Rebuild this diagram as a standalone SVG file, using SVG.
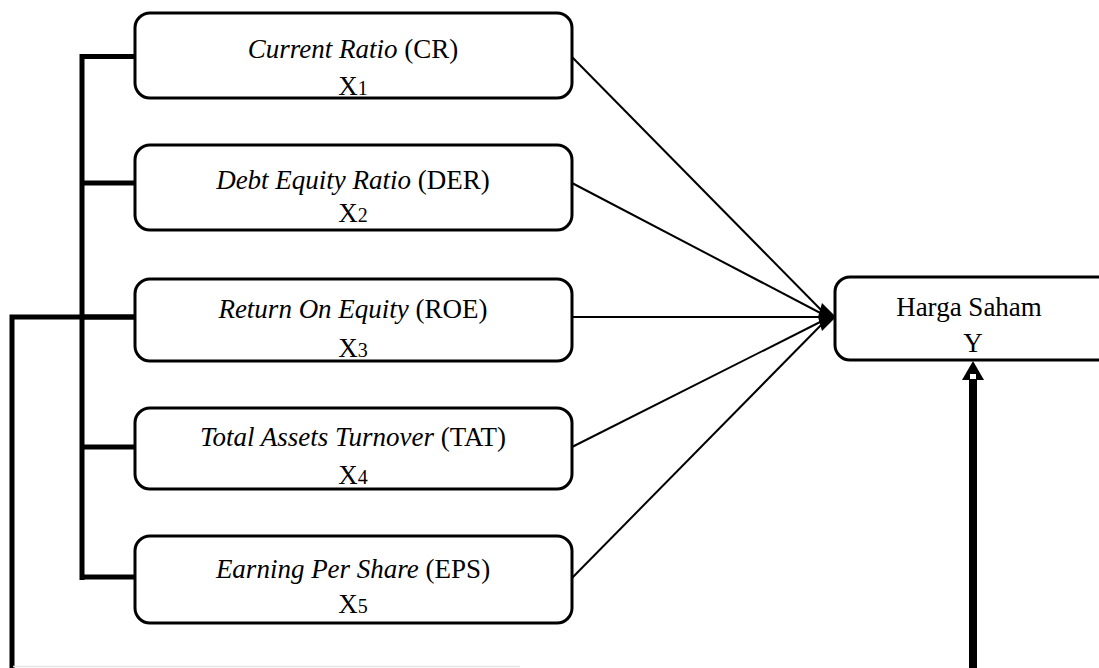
<svg xmlns="http://www.w3.org/2000/svg" width="1099" height="668" viewBox="0 0 1099 668">
<style>
.box{fill:#fff;stroke:#000;stroke-width:3}
.t{font-family:"Liberation Serif","Times New Roman",serif;font-size:27px;fill:#000;text-anchor:middle}
.i{font-style:italic}
.s{font-size:20px}
.thin{stroke:#000;stroke-width:2;fill:none}
.thick{stroke:#000;stroke-width:5;fill:none}
</style>
<g id="connectors">
<path class="thick" d="M82 56.5H135M82 54V580M82 183H135M82 317H135M82 447H135M80 577H135"/>
<path class="thick" d="M12 668V317H135" stroke-width="6"/>
<line x1="13" y1="666.5" x2="520" y2="666.5" stroke="#e6e6e6" stroke-width="1.5"/>
<line class="thin" x1="572" y1="57" x2="828" y2="317"/>
<line class="thin" x1="572" y1="183" x2="828" y2="317"/>
<line class="thin" x1="572" y1="317" x2="828" y2="317"/>
<line class="thin" x1="572" y1="447" x2="828" y2="318" stroke-width="3.2"/>
<line class="thin" x1="572" y1="578" x2="828" y2="318"/>
<polygon points="836,317 822,303 818,317 822,331" fill="#000"/>
<line x1="973" y1="668" x2="973" y2="376" stroke="#000" stroke-width="8"/>
<polygon points="973,361 962,380 984,380" fill="#000"/>
<rect x="970" y="374" width="6" height="5" fill="#fff"/>
</g>
<g id="x1">
<rect class="box" x="135" y="13" width="437" height="85" rx="15"/>
<text class="t" x="353" y="58"><tspan class="i">Current Ratio</tspan> (CR)</text>
<text class="t" x="353" y="95">X<tspan class="s">1</tspan></text>
</g>
<g id="x2">
<rect class="box" x="135" y="145" width="437" height="85" rx="15"/>
<text class="t" x="353" y="189"><tspan class="i">Debt Equity Ratio</tspan>  (DER)</text>
<text class="t" x="353" y="222">X<tspan class="s">2</tspan></text>
</g>
<g id="x3">
<rect class="box" x="135" y="279" width="437" height="82" rx="15"/>
<text class="t" x="353" y="318"><tspan class="i">Return On Equity</tspan> (ROE)</text>
<text class="t" x="353" y="357">X<tspan class="s">3</tspan></text>
</g>
<g id="x4">
<rect class="box" x="135" y="408" width="437" height="81" rx="15"/>
<text class="t" x="353" y="446"><tspan class="i">Total Assets Turnover</tspan>  (TAT)</text>
<text class="t" x="353" y="484">X<tspan class="s">4</tspan></text>
</g>
<g id="x5">
<rect class="box" x="135" y="536" width="437" height="87" rx="15"/>
<text class="t" x="353" y="578"><tspan class="i">Earning Per Share</tspan>  (EPS)</text>
<text class="t" x="353" y="613">X<tspan class="s">5</tspan></text>
</g>
<g id="y">
<rect class="box" x="835" y="277" width="300" height="83" rx="15"/>
<text class="t" x="969" y="316">Harga Saham</text>
<text class="t" x="973" y="352">Y</text>
</g>
</svg>
